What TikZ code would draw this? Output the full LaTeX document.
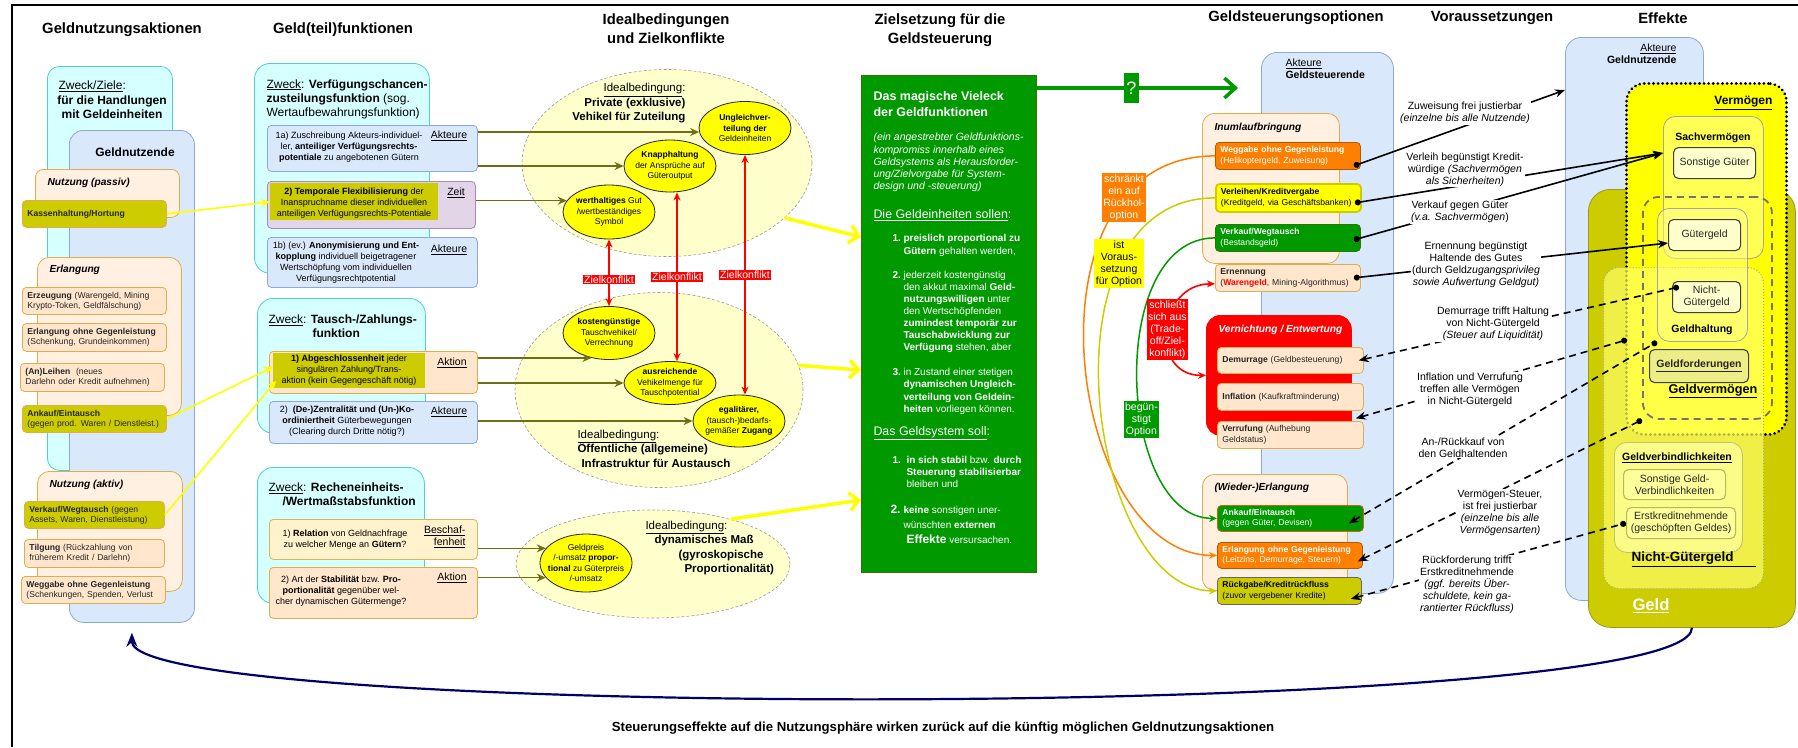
\documentclass[tikz,border=0pt]{standalone}
\usepackage{fontspec}
\setmainfont{Liberation Sans}
\usetikzlibrary{shapes.geometric,arrows.meta,positioning}

\definecolor{zyanfill}{HTML}{D6FFFF}
\definecolor{zyanrand}{HTML}{4FD0D0}
\definecolor{blaufill}{HTML}{DAE8FC}
\definecolor{blaurand}{HTML}{8EA9D4}
\definecolor{pfirsich}{HTML}{FFE6CC}
\definecolor{pfirsichhell}{HTML}{FFF0E2}
\definecolor{orangerand}{HTML}{E3AC4A}
\definecolor{oliv}{HTML}{CCCC00}
\definecolor{olivrand}{HTML}{9A9A1A}
\definecolor{olivpfeilfarbe}{HTML}{6E6E14}
\definecolor{lilafill}{HTML}{E1D5E7}
\definecolor{lilarand}{HTML}{A68BB8}
\definecolor{hellgelb}{HTML}{FFF2CC}
\definecolor{hellgelbrand}{HTML}{D6B656}
\definecolor{ellgelb}{HTML}{FFFFCC}
\definecolor{gelb}{HTML}{FFFF00}
\definecolor{gelbhell}{HTML}{FFFF99}
\definecolor{gelbngg}{HTML}{FFFF66}
\definecolor{gelbgf}{HTML}{EEEE88}
\definecolor{gruen}{HTML}{009900}
\definecolor{gruenrand}{HTML}{2D7600}
\definecolor{orangefill}{HTML}{FF8000}
\definecolor{rot}{HTML}{FF0000}
\definecolor{marine}{HTML}{000066}

\tikzset{
  kopf/.style={font=\fontsize{14.8}{19}\selectfont\bfseries, align=center},
  fEll/.style={font=\fontsize{8.5}{10.5}\selectfont},
  fBox/.style={font=\fontsize{8.6}{10.2}\selectfont},
  fFkt/.style={font=\fontsize{9}{11}\selectfont},
  fOpt/.style={font=\fontsize{8.6}{10.5}\selectfont},
  fTxt/.style={font=\fontsize{10.5}{12}\selectfont},
  fZweck/.style={font=\fontsize{12}{14}\selectfont},
  fIdeal/.style={font=\fontsize{11.5}{14.5}\selectfont},
  fTitel/.style={font=\fontsize{10.2}{12}\selectfont\bfseries\itshape},
  kasten/.style={draw, rounded corners=4pt, line width=0.8pt, anchor=north west, inner sep=0pt, text=black!85},
  behaelter/.style={kasten, rounded corners=12pt},
  lkasten/.style={kasten, align=left, inner xsep=5pt},
  klein/.style={ellipse, draw=black!85, fill=gelb, line width=0.8pt, inner xsep=-14pt, inner ysep=-2pt, align=center, fEll},
  ideal/.style={ellipse, draw=black!40, densely dashed, fill=ellgelb, line width=0.6pt},
  olivpfeil/.style={draw=olivpfeilfarbe, line width=1.6pt, -{Stealth[length=9pt,width=8pt]}},
  konflikt/.style={draw=rot, line width=1.6pt, {Stealth[length=8pt,width=7pt]}-{Stealth[length=8pt,width=7pt]}},
  konfliktlabel/.style={fill=rot, text=white, inner sep=1pt, fTxt},
  gelbpfeil/.style={draw=gelb, line width=3.5pt, -{Straight Barb[length=9pt,width=18pt]}},
  gelbfaden/.style={draw=gelb, line width=1.6pt, -{Stealth[length=9pt,width=8pt]}},
  kurve/.style={line width=1.5pt, -{Stealth[length=8pt,width=7pt]}},
  kurvlabel/.style={fill=#1, inner sep=1.5pt, align=center, fTxt},
  vtext/.style={fTxt, align=center, fill=white, inner sep=1pt},
  solidpfeil/.style={line width=1.6pt, {Circle[length=6pt]}-{Stealth[length=10pt,width=8pt]}},
  strichpfeil/.style={line width=1.6pt, dash pattern=on 7pt off 5pt, {Stealth[length=10pt,width=8pt]}-{Circle[length=6pt]}},
  effekt/.style={kasten, rounded corners=5pt, align=center, fTxt, fill=ellgelb, draw=black!75, line width=1.1pt}
}

\begin{document}
\begin{tikzpicture}[x=1pt, y=-1pt]
\useasboundingbox (0,0) rectangle (1798,747);

% RAHMEN
\draw[line width=1.2pt] (12,747) -- (12,5) -- (1798,5);

% UEBERSCHRIFTEN
\node[kopf] (h1) at (122,30) {Geldnutzungsaktionen};
\node[kopf] (h2) at (343,30) {Geld(teil)funktionen};
\node[kopf] (h3) at (666,29) {Idealbedingungen\\und Zielkonflikte};
\node[kopf] (h4) at (940,30) {Zielsetzung für die\\Geldsteuerung};
\node[kopf] (h5) at (1296,18) {Geldsteuerungsoptionen};
\node[kopf] (h6) at (1492,18) {Voraussetzungen};
\node[kopf] (h7) at (1663,18) {Effekte};

% SPALTE 1: GELDNUTZUNGSAKTIONEN
\node[behaelter, draw=zyanrand, fill=zyanfill, minimum width=125pt, minimum height=404pt] (zz) at (47,66) {};
\node[anchor=west, fZweck] (zzt1) at (55,86) {\underline{Zweck/Ziele}:};
\node[fZweck, align=center] (zzt2) at (112,107) {\textbf{für die Handlungen}\\\textbf{mit Geldeinheiten}};
\node[behaelter, rounded corners=14pt, draw=blaurand, fill=blaufill, minimum width=125pt, minimum height=492pt] (gnz) at (69,130) {};
\node[fZweck] (gnzt) at (135,152) {\textbf{Geldnutzende}};

\node[behaelter, rounded corners=8pt, draw=orangerand, fill=pfirsichhell, minimum width=144pt, minimum height=48pt] (np) at (35,169) {};
\node[anchor=west, fTitel] (npt) at (44,183) {Nutzung (passiv)};
\node[lkasten, fBox, draw=orangerand, fill=oliv, text width=134pt, minimum height=27pt] (kass) at (22,200) {\textbf{Kassenhaltung/Hortung}};

\node[behaelter, draw=orangerand, fill=pfirsichhell, minimum width=144pt, minimum height=158pt] (erl) at (37,257) {};
\node[anchor=west, fTitel] (erlt) at (46,270) {Erlangung};
\node[lkasten, fBox, draw=orangerand, fill=pfirsich, text width=134pt, minimum height=27pt] (erz) at (22,287) {\textbf{Erzeugung} (Warengeld, Mining\\Krypto-Token, Geldfälschung)};
\node[lkasten, fBox, draw=orangerand, fill=pfirsich, text width=134pt, minimum height=28pt] (eog) at (22,323) {\textbf{Erlangung ohne Gegenleistung}\\(Schenkung, Grundeinkommen)};
\node[lkasten, fBox, draw=orangerand, fill=pfirsich, text width=134pt, minimum height=28pt] (anl) at (20,363) {\textbf{(An)Leihen}\ \ (neues\\Darlehn oder Kredit aufnehmen)};
\node[lkasten, fBox, draw=orangerand, fill=oliv, text width=134pt, minimum height=27pt] (ank) at (22,405) {\textbf{Ankauf/Eintausch}\\(gegen prod. Waren / Dienstleist.)};

\node[behaelter, draw=orangerand, fill=pfirsichhell, minimum width=145pt, minimum height=120pt] (na) at (37,471) {};
\node[anchor=west, fTitel] (nat) at (46,485) {Nutzung (aktiv)};
\node[lkasten, fBox, draw=orangerand, fill=oliv, text width=130pt, minimum height=27pt] (vkf) at (24,501) {\textbf{Verkauf/Wegtausch} (gegen\\Assets, Waren, Dienstleistung)};
\node[lkasten, fBox, draw=orangerand, fill=pfirsich, text width=130pt, minimum height=28pt] (tlg) at (24,539) {\textbf{Tilgung} (Rückzahlung von\\früherem Kredit / Darlehn)};
\node[lkasten, fBox, draw=orangerand, fill=pfirsich, text width=134pt, minimum height=27pt] (wgg) at (21,576) {\textbf{Weggabe ohne Gegenleistung}\\(Schenkungen, Spenden, Verlust};

% SPALTE 2: GELD(TEIL)FUNKTIONEN
\node[behaelter, rounded corners=16pt, draw=zyanrand, fill=zyanfill, minimum width=175pt, minimum height=210pt] (zw1) at (254,63) {};
\node[anchor=west, fZweck, align=left] (zw1t) at (263,99) {\underline{Zweck}: \textbf{Verfügungschancen-}\\\textbf{zusteilungsfunktion} (sog.\\Wertaufbewahrungsfunktion)};
\node[kasten, draw=blaurand, fill=blaufill, minimum width=210pt, minimum height=46pt] (f1a) at (267,125) {};
\node[fFkt, align=center] (f1at) at (349,147) {1a) Zuschreibung Akteurs-individuel-\\ler, \textbf{anteiliger Verfügungsrechts-}\\\textbf{potentiale} zu angebotenen Gütern};
\node[fTxt] (f1aa) at (449,136) {\underline{Akteure}};
\node[kasten, draw=lilarand, fill=lilafill, minimum width=208pt, minimum height=47pt] (f2) at (267,181) {};
\node[kasten, draw=none, rounded corners=0pt, fill=oliv, minimum width=168pt, minimum height=37pt] (f2o) at (270,183) {};
\node[fFkt, align=center] (f2t) at (354,203) {\textbf{2) Temporale Flexibilisierung} der\\Inanspruchname dieser individuellen\\anteiligen Verfügungsrechts-Potentiale};
\node[fTxt] (f2z) at (456,193) {\underline{Zeit}};
\node[kasten, draw=blaurand, fill=blaufill, minimum width=210pt, minimum height=50pt] (f1b) at (267,237) {};
\node[fFkt, align=center] (f1bt) at (346,263) {1b) (ev.) \textbf{Anonymisierung und Ent-}\\\textbf{kopplung} individuell beigetragener\\Wertschöpfung vom individuellen\\Verfügungsrechtpotential};
\node[fTxt] (f1ba) at (449,250) {\underline{Akteure}};

\node[behaelter, rounded corners=16pt, draw=zyanrand, fill=zyanfill, minimum width=168pt, minimum height=135pt] (zw2) at (257,298) {};
\node[anchor=west, fZweck, align=left] (zw2t) at (265,326.5) {\underline{Zweck}: \textbf{Tausch-/Zahlungs-}\\\hspace*{44pt}\textbf{funktion}};
\node[kasten, draw=orangerand, fill=pfirsich, minimum width=208pt, minimum height=42pt] (t1) at (269,351) {};
\node[kasten, draw=none, rounded corners=0pt, fill=oliv, minimum width=152pt, minimum height=35pt] (t1o) at (273,353) {};
\node[fFkt, align=center] (t1t) at (349,370) {\textbf{1) Abgeschlossenheit} jeder\\singulären Zahlung/Trans-\\aktion (kein Gegengeschäft nötig)};
\node[fTxt] (t1a) at (452,363) {\underline{Aktion}};
\node[kasten, draw=blaurand, fill=blaufill, minimum width=208pt, minimum height=42pt] (t2) at (269,401) {};
\node[fFkt, align=center] (t2t) at (347,421) {2)\ \ \textbf{(De-)Zentralität und (Un-)Ko-}\\\textbf{ordiniertheit} Güterbewegungen\\(Clearing durch Dritte nötig?)};
\node[fTxt] (t2a) at (449,412) {\underline{Akteure}};

\node[behaelter, rounded corners=16pt, draw=zyanrand, fill=zyanfill, minimum width=167pt, minimum height=136pt] (zw3) at (257,467) {};
\node[anchor=west, fZweck, align=left] (zw3t) at (265,494.5) {\underline{Zweck}: \textbf{Recheneinheits-}\\\hspace*{14pt}\textbf{/Wertmaßstabsfunktion}};
\node[kasten, draw=hellgelbrand, fill=hellgelb, minimum width=208pt, minimum height=40pt] (r1) at (269,519) {};
\node[fFkt, align=center] (r1t) at (345,539.5) {1) \textbf{Relation} von Geldnachfrage\\zu welcher Menge an \textbf{Gütern}?};
\node[fTxt, anchor=east, align=right] (r1b) at (469,537) {\underline{Beschaf-}\\\underline{fenheit}};
\node[kasten, draw=orangerand, fill=pfirsich, minimum width=208pt, minimum height=51pt] (r2) at (269,567) {};
\node[fFkt, align=center] (r2t) at (341,591.5) {2) Art der \textbf{Stabilität} bzw. \textbf{Pro-}\\\textbf{portionalität} gegenüber wel-\\cher dynamischen Gütermenge?};
\node[fTxt] (r2a) at (452,578) {\underline{Aktion}};

% GELBE PFEILE SPALTE 1 -> 2
\draw[gelbfaden] (kass.east) -- (f2o.west);
\draw[gelbfaden] (ank.east) -- ([yshift=4pt]t1o.west);
\draw[gelbfaden] (vkf.east) -- ([xshift=3pt,yshift=-10pt]t1o.west);

% SPALTE 3: IDEALBEDINGUNGEN
\node[ideal, minimum width=290pt, minimum height=187pt] (e1) at (667,163) {};
\node[ideal, minimum width=288pt, minimum height=195pt] (e2) at (659,390) {};
\node[ideal, minimum width=274pt, minimum height=108pt] (e3) at (653,564) {};
\node[fIdeal, anchor=east, align=right] (e1t) at (689,103.5) {\underline{Idealbedingung}:\\\textbf{Private (exklusive)}\\\textbf{Vehikel für Zuteilung}};
\node[fIdeal, anchor=west, align=left] (e2t) at (574,448.5) {\underline{Idealbedingung}:\\\textbf{Öffentliche (allgemeine)}\\\hspace*{4pt}\textbf{Infrastruktur für Austausch}};
\node[fIdeal, anchor=west, align=left] (e3t) at (642,548) {\underline{Idealbedingung}:\\\hspace*{9pt}\textbf{dynamisches Maß}\\\hspace*{33pt}\textbf{(gyroskopische}\\\hspace*{39pt}\textbf{Proportionalität)}};

\node[klein, minimum width=92pt, minimum height=53pt] (uv) at (745,128) {\textbf{Ungleichver-}\\\textbf{teilung der}\\Geldeinheiten};
\node[klein, minimum width=92pt, minimum height=52pt] (kn) at (670,166) {\textbf{Knapphaltung}\\der Ansprüche auf\\Güteroutput};
\node[klein, minimum width=92pt, minimum height=54pt] (wg) at (609,212) {\textbf{werthaltiges} Gut\\/wertbeständiges\\Symbol};
\node[klein, minimum width=92pt, minimum height=53pt] (kg) at (609,333) {\textbf{kostengünstige}\\Tauschvehikel/\\Verrechnung};
\node[klein, minimum width=92pt, minimum height=43pt] (av) at (670,383) {\textbf{ausreichende}\\Vehikelmenge für\\Tauschpotential};
\node[klein, minimum width=92pt, minimum height=52pt] (eg) at (739,421) {\textbf{egalitärer,}\\(tausch-)bedarfs-\\gemäßer \textbf{Zugang}};
\node[klein, minimum width=92pt, minimum height=58pt] (gp) at (586,563) {Geldpreis\\/-umsatz \textbf{propor-}\\\textbf{tional} zu Güterpreis\\/-umsatz};

% OLIVE PFEILE SPALTE 2 -> 3
\draw[olivpfeil] (f1a.east |- uv.185) -- (uv.185);
\draw[olivpfeil] (f1a.east |- kn.west) -- (kn.west);
\draw[olivpfeil] (f2.east |- wg.165) -- (wg.165);
\draw[olivpfeil] (t1.east |- kg.235) -- (kg.235);
\draw[olivpfeil] (t1.east |- av.west) -- (av.west);
\draw[olivpfeil] (t2.east |- eg.west) -- (eg.west);
\draw[olivpfeil] (r1.east |- gp.160) -- (gp.160);
\draw[olivpfeil] (r2.east |- gp.200) -- (gp.200);

% ZIELKONFLIKTE
\draw[konflikt] (wg.south) -- node[pos=0.6, konfliktlabel] (zk1) {Zielkonflikt} (kg.north);
\draw[konflikt] ([xshift=7pt]kn.south) -- node[pos=0.5, konfliktlabel] (zk2) {Zielkonflikt} ([xshift=7pt]av.north);
\draw[konflikt] (uv.south) -- node[pos=0.5, konfliktlabel] (zk3) {Zielkonflikt} (uv.south |- eg.north);

% SPALTE 4: ZIELSETZUNG
\node[kasten, rounded corners=0pt, draw=gruenrand, fill=gruen, minimum width=175pt, minimum height=497pt] (gb) at (861,75) {};
\node[anchor=west, text=white, align=left, font=\fontsize{12.5}{16}\selectfont\bfseries] (gbt) at (870,104) {Das magische Vieleck\\der Geldfunktionen};
\node[anchor=west, text=white, align=left, font=\fontsize{10.5}{12.2}\selectfont\itshape] (gbi) at (870,162.5) {(ein angestrebter Geldfunktions-\\kompromiss innerhalb eines\\Geldsystems als Herausforder-\\ung/Zielvorgabe für System-\\design und -steuerung)};
\node[anchor=west, text=white, font=\fontsize{12.4}{14}\selectfont] (gbs1) at (870,215) {\underline{Die Geldeinheiten sollen}:};
\node[anchor=west, text=white, align=left, font=\fontsize{10}{12.4}\selectfont] (gbp1) at (889,245.5) {\makebox[11pt][l]{\textbf{1.}}\textbf{preislich proportional zu}\\\hspace*{11pt}\textbf{Gütern} gehalten werden,};
\node[anchor=west, text=white, align=left, font=\fontsize{10}{12}\selectfont] (gbp2) at (889,312) {\makebox[11pt][l]{\textbf{2.}}jederzeit kostengünstig\\\hspace*{11pt}den akkut maximal \textbf{Geld-}\\\hspace*{11pt}\textbf{nutzungswilligen} unter\\\hspace*{11pt}den Wertschöpfenden\\\hspace*{11pt}\textbf{zumindest temporär zur}\\\hspace*{11pt}\textbf{Tauschabwicklung zur}\\\hspace*{11pt}\textbf{Verfügung} stehen, aber};
\node[anchor=west, text=white, align=left, font=\fontsize{10}{12.3}\selectfont] (gbp3) at (889,391.5) {\makebox[11pt][l]{\textbf{3.}}in Zustand einer stetigen\\\hspace*{11pt}\textbf{dynamischen Ungleich-}\\\hspace*{11pt}\textbf{verteilung von Geldein-}\\\hspace*{11pt}\textbf{heiten} vorliegen können.};
\node[anchor=west, text=white, font=\fontsize{12.4}{14}\selectfont] (gbs2) at (870,433) {\underline{Das Geldsystem soll}:};
\node[anchor=west, text=white, align=left, font=\fontsize{10}{12}\selectfont] (gbq1) at (889,472) {\makebox[14pt][l]{\textbf{1.}}\textbf{in sich stabil} bzw. \textbf{durch}\\\hspace*{14pt}\textbf{Steuerung stabilisierbar}\\\hspace*{14pt}bleiben und};
\node[anchor=west, text=white, align=left, font=\fontsize{10}{15}\selectfont] (gbq2) at (887,524) {\makebox[13pt][l]{\fontsize{12}{12}\selectfont\textbf{2.}}\textbf{keine} sonstigen uner-\\\hspace*{13pt}wünschten \textbf{externen}\\\hspace*{16pt}{\fontsize{12}{12}\selectfont\textbf{Effekte}} versursachen.};

% GELBE PFEILE SPALTE 3 -> 4
\draw[gelbpfeil] (e1.-25) -- ([yshift=-162pt]gb.north west);
\draw[gelbpfeil] (e2.10) -- ([yshift=-295pt]gb.north west);
\draw[gelbpfeil] (e3.30) -- ([yshift=-425pt]gb.north west);

% SPALTE 5: GELDSTEUERUNGSOPTIONEN
\node[behaelter, rounded corners=16pt, draw=blaurand, fill=blaufill, minimum width=132pt, minimum height=541pt] (gs) at (1261,52) {};
\node[anchor=west, fTxt, align=left] (gst) at (1282,69) {\underline{Akteure}\\\textbf{Geldsteuerende}};

\draw[draw=gruen, line width=3.5pt, -{Straight Barb[length=11pt,width=20pt]}] ([yshift=-13pt]gb.north east) -- node[pos=0.47, fill=gruen, text=white, font=\fontsize{18}{18}\selectfont, inner sep=1pt, minimum height=30pt, minimum width=15pt] (frage) {?} ([xshift=-23pt,yshift=-36pt]gs.north west);

\node[behaelter, draw=orangerand, fill=pfirsichhell, minimum width=137pt, minimum height=150pt] (inum) at (1202,113) {};
\node[anchor=west, fTitel] (inumt) at (1211,128) {Inumlaufbringung};
\node[lkasten, fOpt, draw=orangefill!70!black, fill=orangefill, text=white, text width=135pt, minimum height=27pt] (weg) at (1215,142) {\textbf{Weggabe ohne Gegenleistung}\\(Helikoptergeld, Zuweisung)};
\node[lkasten, fOpt, draw=oliv, line width=1.8pt, fill=gelb, text=black, text width=135pt, minimum height=28pt] (vlh) at (1215,183) {\textbf{Verleihen/Kreditvergabe}\\(Kreditgeld, via Geschäftsbanken)};
\node[lkasten, fOpt, draw=gruenrand, fill=gruen, text=white, text width=135pt, minimum height=27pt] (vkw) at (1215,224) {\textbf{Verkauf/Wegtausch}\\(Bestandsgeld)};
\node[lkasten, fOpt, draw=orangerand, fill=pfirsich, text width=135pt, minimum height=27pt] (ern) at (1215,264) {\textbf{Ernennung}\\(\textcolor{rot}{\textbf{Warengeld}}, Mining-Algorithmus)};

\node[behaelter, rounded corners=14pt, draw=rot, fill=rot, minimum width=145pt, minimum height=120pt] (vern) at (1206,315) {};
\node[anchor=west, fTitel, text=white] (vernt) at (1215,330) {Vernichtung / Entwertung};
\node[lkasten, fOpt, draw=orangerand, fill=pfirsich, text width=136pt, minimum height=26pt] (dem) at (1217,347) {\textbf{Demurrage} (Geldbesteuerung)};
\node[lkasten, fOpt, draw=orangerand, fill=pfirsich, text width=136pt, minimum height=27pt] (inf) at (1217,383) {\textbf{Inflation} (Kaufkraftminderung)};
\node[lkasten, fOpt, draw=orangerand, fill=pfirsich, text width=136pt, minimum height=27pt] (ver) at (1217,421) {\textbf{Verrufung} (Aufhebung\\Geldstatus)};

\node[behaelter, draw=orangerand, fill=pfirsichhell, minimum width=145pt, minimum height=116pt] (wied) at (1202,474) {};
\node[anchor=west, fTitel] (wiedt) at (1211,488) {(Wieder-)Erlangung};
\node[lkasten, fOpt, draw=orangefill!80!black, fill=gruen, text=white, text width=136pt, minimum height=26pt] (ank2) at (1217,505) {\textbf{Ankauf/Eintausch}\\(gegen Güter, Devisen)};
\node[lkasten, fOpt, draw=orangefill!70!black, fill=orangefill, text=white, text width=135pt, minimum height=26pt] (erl2) at (1217,542) {\textbf{Erlangung ohne Gegenleistung}\\(Leitzins, Demurrage, Steuern)};
\node[lkasten, fOpt, draw=black!60, fill=oliv, text=black, text width=134pt, minimum height=27pt] (rueck) at (1217,577) {\textbf{Rückgabe/Kreditrückfluss}\\(zuvor vergebener Kredite)};

% KURVEN ZWISCHEN DEN OPTIONEN
\draw[kurve, draw=orangefill] (weg.west) .. controls +(-200,0) and +(-150,0) .. node[pos=0.2, kurvlabel=orangefill, text=white] (lb1) {schränkt\\ein auf\\Rückhol-\\option} (erl2.west);
\draw[kurve, draw=oliv] (vlh.west) .. controls +(-180,0) and +(-130,0) .. node[pos=0.26, kurvlabel=gelb, text=black] (lb2) {ist\\Voraus-\\setzung\\für Option} (rueck.west);
\draw[kurve, draw=gruen] (vkw.west) .. controls +(-110,0) and +(-100,0) .. node[pos=0.6, kurvlabel=gruen, text=white] (lb3) {begün-\\stigt\\Option} (ank2.west);
\draw[konflikt] ([yshift=-6pt]ern.west) to[out=180, in=180, looseness=1.6] node[pos=0.5, kurvlabel=rot, text=white] (lb4) {schließt\\sich aus\\(Trade-\\off/Ziel-\\konflikt)} (vern.west);

% SPALTE 7: EFFEKTE
\node[behaelter, rounded corners=16pt, draw=blaurand, fill=blaufill, minimum width=138pt, minimum height=563pt] (gn) at (1565,37) {};
\node[anchor=east, fTxt, align=right] (gnt) at (1680,54) {\underline{Akteure}\\\textbf{Geldnutzende}};
\node[behaelter, rounded corners=22pt, draw=olivrand, fill=oliv, minimum width=207pt, minimum height=438pt] (geld) at (1588,189) {};
\node[behaelter, rounded corners=18pt, draw=black, fill=gelb, line width=3pt, line cap=round, dash pattern=on 0.1pt off 4.5pt, minimum width=160pt, minimum height=351pt] (verm) at (1625,82) {};
\node[behaelter, rounded corners=16pt, draw=black!35, fill=gelbngg, fill opacity=0.7, line width=1pt, dotted, minimum width=160pt, minimum height=321pt] (ngg) at (1603,267) {};
\node[behaelter, rounded corners=12pt, draw=black!35, fill=gelbhell, fill opacity=0.55, minimum width=100pt, minimum height=142pt] (sv) at (1663,116) {};
\node[behaelter, rounded corners=12pt, draw=black!35, fill=gelbhell, fill opacity=0.45, minimum width=90pt, minimum height=133pt] (gh) at (1657,208) {};
\node[behaelter, rounded corners=16pt, draw=black!55, line width=1.8pt, dash pattern=on 7pt off 5pt, minimum width=129pt, minimum height=222pt] (gv) at (1642,196) {};
\node[fTxt] (svt) at (1713,138) {\textbf{Sachvermögen}};
\node[effekt, minimum width=82pt, minimum height=31pt] (sg) at (1673,147) {Sonstige Güter};
\node[effekt, minimum width=72pt, minimum height=31pt] (gg) at (1668,219) {Gütergeld};
\node[effekt, minimum width=68pt, minimum height=31pt] (ng) at (1672,281) {Nicht-\\Gütergeld};
\node[fTxt] (ght) at (1702,330) {\textbf{Geldhaltung}};
\node[effekt, fill=gelbgf, minimum width=99pt, minimum height=33pt] (gf) at (1649,349) {\textbf{\underline{Geldforderungen}}};
\node[anchor=east, font=\fontsize{12.7}{14}\selectfont] (gvt) at (1761,391) {\textbf{\underline{Geldvermögen}}};
\node[anchor=east, font=\fontsize{12}{14}\selectfont] (vermt) at (1776,103) {\textbf{\underline{Vermögen}}};
\node[behaelter, draw=olivrand!60, fill=gelbhell, fill opacity=0.8, minimum width=128pt, minimum height=110pt] (gvb) at (1614,442) {};
\node[fTxt] (gvbt) at (1677,458) {\textbf{\underline{Geldverbindlichkeiten}}};
\node[effekt, draw=olivrand!70, fill=gelbhell, minimum width=102pt, minimum height=30pt] (sgv) at (1623,469) {Sonstige Geld-\\Verbindlichkeiten};
\node[effekt, draw=olivrand!70, fill=gelbhell, minimum width=109pt, minimum height=31pt] (ekn) at (1626,507) {Erstkreditnehmende\\(geschöpften Geldes)};
\node[anchor=west, font=\fontsize{13.5}{15}\selectfont] (nggt) at (1628,559) {\textbf{\underline{Nicht-Gütergeld\hspace*{22pt}}}};
\node[anchor=west, text=white, font=\fontsize{16.6}{18}\selectfont] (geldt) at (1629,606) {\textbf{\underline{Geld}}};

% SPALTE 6: VORAUSSETZUNGEN (PFEILE)
\draw[solidpfeil] ([xshift=-7pt,yshift=-10pt]weg.east) -- ([yshift=-53pt]gn.north west);
\draw[solidpfeil] ([xshift=-7pt,yshift=-5pt]vlh.east) -- ([yshift=-37pt]sv.north west);
\draw[solidpfeil] ([xshift=-7pt,yshift=-2pt]vkw.east) -- ([yshift=-37pt]sv.north west);
\draw[solidpfeil] ([xshift=-7pt]ern.east) -- ([yshift=-8pt]gg.west);
\draw[strichpfeil] ([xshift=-5pt]dem.east) -- ([xshift=7pt,yshift=-6pt]ng.north west);
\draw[strichpfeil] ([xshift=4pt,yshift=-43pt]vern.east) -- ([xshift=-30pt,yshift=2pt]gh.south west);
\draw[strichpfeil] ([xshift=-15pt,yshift=-5pt]ank2.east) -- (gh.south west);
\draw[strichpfeil] ([xshift=-5pt,yshift=-6pt]erl2.east) -- (gv.south west);
\draw[strichpfeil] ([xshift=-11pt,yshift=-8pt]rueck.east) -- (ekn.west);

% SPALTE 6: VORAUSSETZUNGEN (TEXTE)
\node[vtext] (v1) at (1465,113) {Zuweisung frei justierbar\\\textit{(einzelne bis alle Nutzende)}};
\node[vtext] (v2) at (1465,169.5) {Verleih begünstigt Kredit-\\würdige \textit{(Sachvermögen}\\\textit{als Sicherheiten)}};
\node[vtext] (v3) at (1460,212) {Verkauf gegen Güter\\\textit{(v.a. Sachvermögen})};
\node[vtext] (v4) at (1476,265) {Ernennung begünstigt\\Haltende des Gutes\\(durch Geld\textit{zugangsprivileg}\\\textit{sowie Aufwertung Geldgut)}};
\node[vtext] (v5) at (1493,324) {Demurrage trifft Haltung\\von Nicht-Gütergeld\\\textit{(Steuer auf Liquidität)}};
\node[vtext] (v6) at (1470,390) {Inflation und Verrufung\\treffen alle Vermögen\\in Nicht-Gütergeld};
\node[vtext] (v7) at (1463,447.5) {An-/Rückkauf von\\den Geldhaltenden};
\node[vtext] (v8) at (1500,513) {Vermögen-Steuer,\\ist frei justierbar\\\textit{(einzelne bis alle}\\\textit{Vermögensarten)}};
\node[vtext] (v9) at (1467,585) {Rückforderung trifft\\Erstkreditnehmende\\\textit{(ggf. bereits Über-}\\\textit{schuldete, kein ga-}\\\textit{rantierter Rückfluss)}};

% RUECKWIRKUNG
\draw[draw=marine, line width=2.2pt, -{Stealth[length=14pt,width=11pt]}] (geld.south) .. controls +(0,93) and +(0,88) .. ([yshift=-10pt]gnz.south);
\node[font=\fontsize{13.2}{15}\selectfont\bfseries] (fuss) at (943,728) {Steuerungseffekte auf die Nutzungsphäre wirken zurück auf die künftig möglichen Geldnutzungsaktionen};

\end{tikzpicture}
\end{document}
